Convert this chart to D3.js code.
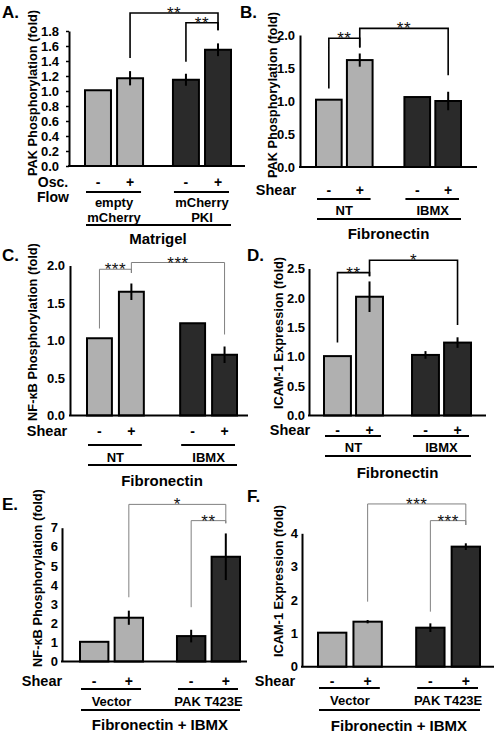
<!DOCTYPE html>
<html><head><meta charset="utf-8">
<script src="https://cdn.jsdelivr.net/npm/d3@7"></script>
<style>
html,body{margin:0;padding:0;background:#fff;}
text{font-family:"Liberation Sans",Arial,sans-serif;}
</style></head>
<body>
<svg id="chart" width="499" height="732"></svg>
<script>
// ---------- DATA ----------
const conditions = ["-", "+"];

const groupsA = [["empty", "mCherry"], ["mCherry", "PKI"]];
const groupsB = [["NT"], ["IBMX"]];
const groupsE = [["Vector"], ["PAK T423E"]];

const valuesA = [1.01, 1.17, 1.15, 1.55];
const errorsA = [0, 0.095, 0.08, 0.085];
const ticksA = [0, 0.2, 0.4, 0.6, 0.8, 1.0, 1.2, 1.4, 1.6, 1.8];

const valuesB = [1.02, 1.62, 1.06, 1.0];
const errorsB = [0, 0.1, 0, 0.14];
const ticksB = [0, 0.5, 1.0, 1.5, 2.0];

const valuesC = [1.03, 1.65, 1.23, 0.81];
const errorsC = [0, 0.11, 0, 0.11];
const ticksC = [0, 0.5, 1.0, 1.5, 2.0];

const valuesD = [1.01, 2.02, 1.03, 1.24];
const errorsD = [0, 0.26, 0.065, 0.09];
const ticksD = [0, 0.5, 1.0, 1.5, 2.0, 2.5];

const valuesE = [1.03, 2.29, 1.33, 5.48];
const errorsE = [0, 0.37, 0.33, 1.22];
const ticksE = [0, 1, 2, 3, 4, 5, 6, 7];

const valuesF = [1.02, 1.35, 1.17, 3.6];
const errorsF = [0, 0.05, 0.13, 0.1];
const ticksF = [0, 1, 2, 3, 4];

// significance brackets: bar indices, levels in data units
const sigA = [
  {from: 1, to: 3, label: "**", level: 2.04, leftEnd: 1.44, rightEnd: 1.81},
  {from: 2, to: 3, label: "**", level: 1.91, leftEnd: 1.39, rightEnd: 1.81}
];
const sigB = [
  {from: 0, to: 1, label: "**", level: 1.95, leftEnd: 1.19, rightEnd: 1.81},
  {from: 1, to: 3, label: "**", level: 2.10, leftEnd: 1.81, rightEnd: 1.39}
];
const sigC = [
  {from: 0, to: 1, label: "***", level: 1.95, leftEnd: 1.16, rightEnd: 1.90},
  {from: 1, to: 3, label: "***", level: 2.04, leftEnd: 1.90, rightEnd: 1.08}
];
const sigD = [
  {from: 0, to: 1, label: "**", level: 2.43, leftEnd: 1.24, rightEnd: 2.37},
  {from: 1, to: 3, label: "*", level: 2.64, leftEnd: 2.37, rightEnd: 1.54}
];
const sigE = [
  {from: 1, to: 3, label: "*", level: 8.22, leftEnd: 3.36, rightEnd: 7.23},
  {from: 2, to: 3, label: "**", level: 7.37, leftEnd: 2.84, rightEnd: 7.23}
];
const sigF = [
  {from: 1, to: 3, label: "***", level: 4.88, leftEnd: 1.95, rightEnd: 4.25},
  {from: 2, to: 3, label: "***", level: 4.38, leftEnd: 1.65, rightEnd: 4.25}
];

// ---------- LAYOUT ----------
const LIGHT = "#b0b0b0", DARK = "#2a2a2a";
const panels = [
  {letter: "A.", lx: 2, ly: 18, values: valuesA, errors: errorsA, ticks: ticksA, fmt: d3.format(".1f"),
   yMax: 1.8, y0: 166, yTop: 31, axisX: 69, axisRight: 245, barRange: [85, 231], groupPad: 0.34, barPad: 0.19,
   tickSize: 3, tickPad: 7, ylabel: "PAK Phosphorylation (fold)", ylabX: 32, ylabY: 93,
   rowLabel: ["Osc.", "Flow"], rowX: 53, signY: 182, underY: 192, groups: groupsA, groupY: 202, groupDy: 15,
   lineY: 225, title: "Matrigel", titleY: 238, sig: sigA, sigColor: "#000", sigW: 1.6},
  {letter: "B.", lx: 240, ly: 18, values: valuesB, errors: errorsB, ticks: ticksB, fmt: d3.format(".1f"),
   yMax: 2.0, y0: 167, yTop: 35, axisX: 300, axisRight: 477, barRange: [316, 461], groupPad: 0.36, barPad: 0.17,
   tickSize: 0, tickPad: 5, ylabel: "PAK Phosphorylation (fold)", ylabX: 272, ylabY: 95,
   rowLabel: ["Shear"], rowX: 276, signY: 190, underY: 199, groups: groupsB, groupY: 210, groupDy: 15,
   lineY: 219, title: "Fibronectin", titleY: 233, sig: sigB, sigColor: "#000", sigW: 1.6},
  {letter: "C.", lx: 2, ly: 261, values: valuesC, errors: errorsC, ticks: ticksC, fmt: d3.format(".1f"),
   yMax: 2.0, y0: 415.5, yTop: 265.5, axisX: 70, axisRight: 248, barRange: [87, 237], groupPad: 0.39, barPad: 0.22,
   tickSize: 0, tickPad: 5, ylabel: "NF-\u03BAB Phosphorylation (fold)", ylabX: 32, ylabY: 332,
   rowLabel: ["Shear"], rowX: 47, signY: 431, underY: 445, groups: groupsB, groupY: 457, groupDy: 15,
   lineY: 465, title: "Fibronectin", titleY: 480, sig: sigC, sigColor: "#808080", sigW: 1},
  {letter: "D.", lx: 247, ly: 261, values: valuesD, errors: errorsD, ticks: ticksD, fmt: d3.format(".1f"),
   yMax: 2.5, y0: 415.5, yTop: 268.5, axisX: 309, axisRight: 486, barRange: [324, 471], groupPad: 0.33, barPad: 0.16,
   tickSize: 0, tickPad: 4, ylabel: "ICAM-1 Expression (fold)", ylabX: 278, ylabY: 333,
   rowLabel: ["Shear"], rowX: 290, signY: 430, underY: 436, groups: groupsB, groupY: 447, groupDy: 15,
   lineY: 456, title: "Fibronectin", titleY: 472, sig: sigD, sigColor: "#000", sigW: 1.6},
  {letter: "E.", lx: 2, ly: 510, values: valuesE, errors: errorsE, ticks: ticksE, fmt: d3.format("d"),
   yMax: 7, y0: 661.5, yTop: 527.7, axisX: 62, axisRight: 247, barRange: [80, 240], groupPad: 0.35, barPad: 0.18,
   tickSize: 0, tickPad: 4, ylabel: "NF-\u03BAB Phosphorylation (fold)", ylabX: 37, ylabY: 578,
   rowLabel: ["Shear"], rowX: 42, signY: 681, underY: 689, groups: groupsE, groupY: 701, groupDy: 15,
   lineY: 710, title: "Fibronectin + IBMX", titleY: 724, sig: sigE, sigColor: "#808080", sigW: 1},
  {letter: "F.", lx: 247, ly: 502, values: valuesF, errors: errorsF, ticks: ticksF, fmt: d3.format("d"),
   yMax: 4, y0: 666.7, yTop: 533.3, axisX: 302, axisRight: 494, barRange: [318, 480], groupPad: 0.35, barPad: 0.2,
   tickSize: 0, tickPad: 4, ylabel: "ICAM-1 Expression (fold)", ylabX: 278, ylabY: 581,
   rowLabel: ["Shear"], rowX: 275, signY: 681, underY: 688, groups: groupsE, groupY: 700, groupDy: 15,
   lineY: 710, title: "Fibronectin + IBMX", titleY: 725, sig: sigF, sigColor: "#808080", sigW: 1}
];

const svg = d3.select("#chart");
svg.append("rect").attr("width", 499).attr("height", 732).attr("fill", "#fff");

function drawPanel(p) {
  const g = svg.append("g");
  const y = d3.scaleLinear().domain([0, p.yMax]).range([p.y0, p.yTop]);
  const gx = d3.scaleBand().domain(d3.range(p.groups.length)).range(p.barRange)
    .paddingInner(p.groupPad).paddingOuter(0);
  const cx = d3.scaleBand().domain(conditions).range([0, gx.bandwidth()]).paddingInner(p.barPad);
  const bars = p.values.map((v, i) => ({v, e: p.errors[i], g: Math.floor(i / 2), c: conditions[i % 2]}));
  const bx = d => gx(d.g) + cx(d.c);
  const bc = i => bx(bars[i]) + cx.bandwidth() / 2;

  g.append("text").attr("x", p.lx).attr("y", p.ly).text(p.letter)
    .attr("font-size", 17).attr("font-weight", "bold");

  g.selectAll("rect.bar").data(bars).enter().append("rect")
    .attr("x", bx).attr("width", cx.bandwidth())
    .attr("y", d => y(d.v)).attr("height", d => y(0) - y(d.v))
    .attr("fill", d => d.g === 0 ? LIGHT : DARK)
    .attr("stroke", "#000").attr("stroke-width", 2);

  g.selectAll("line.err").data(bars.filter(d => d.e > 0)).enter().append("line")
    .attr("x1", d => bx(d) + cx.bandwidth() / 2).attr("x2", d => bx(d) + cx.bandwidth() / 2)
    .attr("y1", d => y(d.v - d.e)).attr("y2", d => y(d.v + d.e))
    .attr("stroke", "#000").attr("stroke-width", 2);

  const ax = g.append("g").attr("transform", `translate(${p.axisX},0)`)
    .call(d3.axisLeft(y).tickValues(p.ticks).tickFormat(p.fmt)
      .tickSize(p.tickSize).tickSizeOuter(0).tickPadding(p.tickPad));
  ax.attr("font-family", null).attr("font-size", null);
  ax.select(".domain").attr("stroke", "#000").attr("stroke-width", 2);
  ax.selectAll(".tick line").attr("stroke", "#000").attr("stroke-width", 1.5);
  ax.selectAll(".tick text").style("font-size", "13px").style("font-weight", "bold")
    .style("font-family", "'Liberation Sans', Arial, sans-serif").attr("fill", "#000");

  g.append("line").attr("x1", p.axisX - 1).attr("x2", p.axisRight)
    .attr("y1", y(0)).attr("y2", y(0)).attr("stroke", "#000").attr("stroke-width", 2);

  g.append("text").attr("transform", `translate(${p.ylabX},${p.ylabY}) rotate(-90)`)
    .attr("text-anchor", "middle").attr("dominant-baseline", "central")
    .attr("font-size", 12.8).attr("font-weight", "bold").text(p.ylabel);

  p.sig.forEach(s => {
    const x1 = bc(s.from), x2 = bc(s.to);
    g.append("path")
      .attr("d", `M${x1},${y(s.leftEnd)} V${y(s.level)} H${x2} V${y(s.rightEnd)}`)
      .attr("fill", "none").attr("stroke", p.sigColor).attr("stroke-width", p.sigW);
    g.append("text").attr("x", (x1 + x2) / 2).attr("y", y(s.level) + 6)
      .attr("text-anchor", "middle").attr("font-size", 17).attr("letter-spacing", 0.5)
      .attr("fill", "#111").text(s.label);
  });

  g.selectAll("text.sign").data(bars).enter().append("text")
    .attr("x", d => bx(d) + cx.bandwidth() / 2).attr("y", p.signY)
    .attr("text-anchor", "middle").attr("dominant-baseline", "central")
    .attr("font-size", 14).attr("font-weight", "bold").text(d => d.c);

  p.rowLabel.forEach((t, i) => {
    g.append("text").attr("x", p.rowX).attr("y", p.signY + i * 15)
      .attr("text-anchor", "middle").attr("dominant-baseline", "central")
      .attr("font-size", p.rowLabel.length > 1 ? 14 : 14.5).attr("font-weight", "bold").text(t);
  });

  p.groups.forEach((lines, gi) => {
    const x0 = gx(gi), x1 = gx(gi) + gx.bandwidth();
    g.append("line").attr("x1", x0 + 1).attr("x2", x1 - 2)
      .attr("y1", p.underY).attr("y2", p.underY).attr("stroke", "#000").attr("stroke-width", 2);
    lines.forEach((t, li) => {
      g.append("text").attr("x", (x0 + x1) / 2).attr("y", p.groupY + li * p.groupDy)
        .attr("text-anchor", "middle").attr("dominant-baseline", "central")
        .attr("font-size", 13).attr("font-weight", "bold").text(t);
    });
  });

  g.append("line").attr("x1", p.barRange[0] + 1).attr("x2", p.barRange[1])
    .attr("y1", p.lineY).attr("y2", p.lineY).attr("stroke", "#000").attr("stroke-width", 2);
  g.append("text").attr("x", (p.barRange[0] + p.barRange[1]) / 2).attr("y", p.titleY)
    .attr("text-anchor", "middle").attr("dominant-baseline", "central")
    .attr("font-size", 15).attr("font-weight", "bold").text(p.title);
}

panels.forEach(drawPanel);
</script>
</body></html>
